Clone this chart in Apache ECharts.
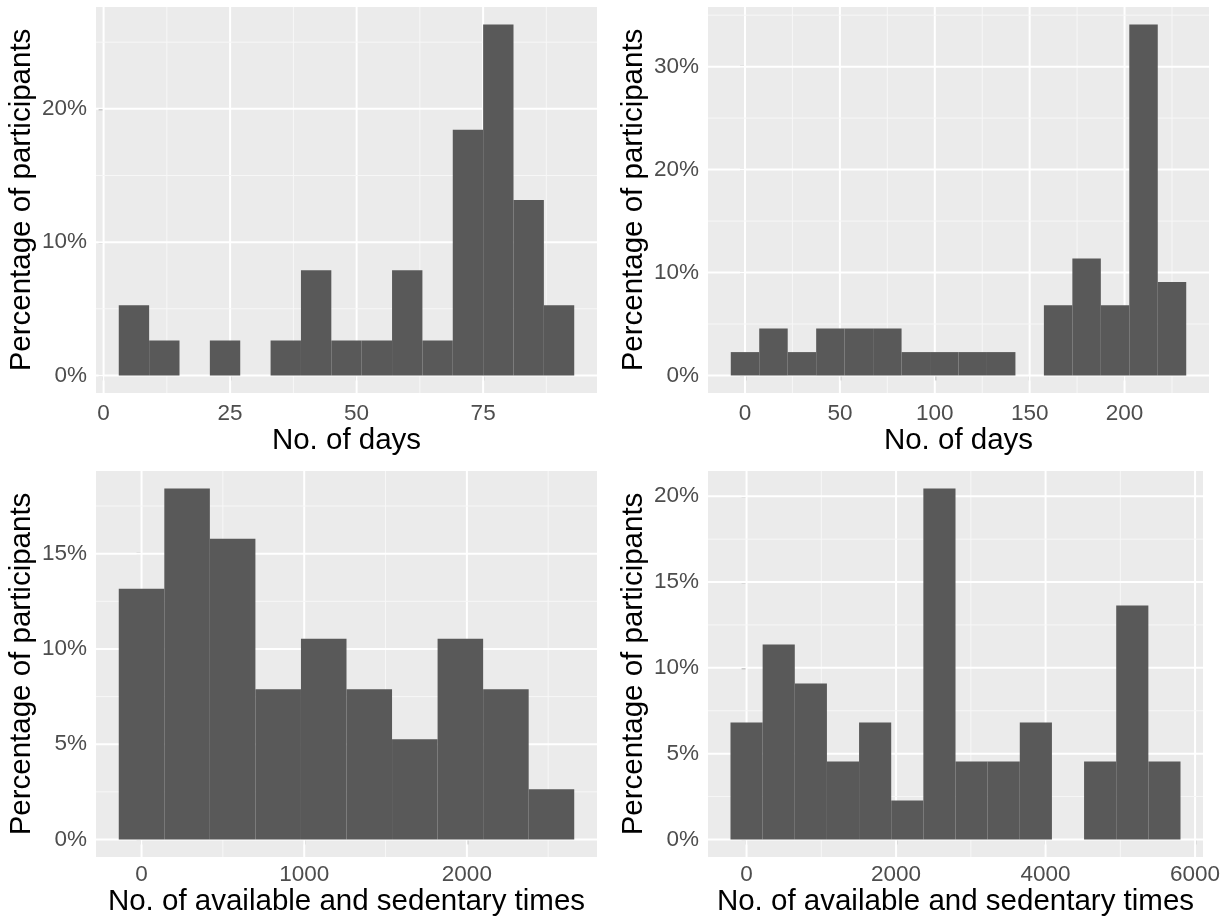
<!DOCTYPE html>
<html>
<head>
<meta charset="utf-8">
<script src="https://cdn.jsdelivr.net/npm/echarts@6/dist/echarts.min.js"></script>
<style>
html,body{margin:0;padding:0;background:#fff;}
#chart{width:1228px;height:920px;}
</style>
</head>
<body>
<div id="chart"></div>
<script>
// ---- Data ----
// Panel A (top-left): No. of days
const daysA_centers = [6, 12, 18, 24, 30, 36, 42, 48, 54, 60, 66, 72, 78, 84, 90];
const daysA_binWidth = 6;
const daysA_pct = [5.26, 2.63, 0, 2.63, 0, 2.63, 7.89, 2.63, 2.63, 7.89, 2.63, 18.42, 26.32, 13.16, 5.26];
const daysA_xBreaks = [0, 25, 50, 75];
const daysA_xMinor = [12.5, 37.5, 62.5, 87.5];
const daysA_yBreaks = [0, 10, 20];
const daysA_yMinor = [5, 15, 25];

// Panel B (top-right): No. of days
const daysB_centers = [0, 15, 30, 45, 60, 75, 90, 105, 120, 135, 150, 165, 180, 195, 210, 225];
const daysB_binWidth = 15;
const daysB_pct = [2.27, 4.55, 2.27, 4.55, 4.55, 4.55, 2.27, 2.27, 2.27, 2.27, 0, 6.82, 11.36, 6.82, 34.09, 9.09];
const daysB_xBreaks = [0, 50, 100, 150, 200];
const daysB_xMinor = [25, 75, 125, 175, 225];
const daysB_yBreaks = [0, 10, 20, 30];
const daysB_yMinor = [5, 15, 25, 35];

// Panel C (bottom-left): No. of available and sedentary times
const timesC_centers = [0, 280, 560, 840, 1120, 1400, 1680, 1960, 2240, 2520];
const timesC_binWidth = 280;
const timesC_pct = [13.16, 18.42, 15.79, 7.89, 10.53, 7.89, 5.26, 10.53, 7.89, 2.63];
const timesC_xBreaks = [0, 1000, 2000];
const timesC_xMinor = [500, 1500, 2500];
const timesC_yBreaks = [0, 5, 10, 15];
const timesC_yMinor = [2.5, 7.5, 12.5, 17.5];

// Panel D (bottom-right): No. of available and sedentary times
const timesD_centers = [0, 430, 860, 1290, 1720, 2150, 2580, 3010, 3440, 3870, 4300, 4730, 5160, 5590];
const timesD_binWidth = 430;
const timesD_pct = [6.82, 11.36, 9.09, 4.55, 6.82, 2.27, 20.45, 4.55, 4.55, 6.82, 0, 4.55, 13.64, 4.55];
const timesD_xBreaks = [0, 2000, 4000, 6000];
const timesD_xMinor = [1000, 3000, 5000];
const timesD_yBreaks = [0, 5, 10, 15, 20];
const timesD_yMinor = [2.5, 7.5, 12.5, 17.5];

const yTitle = 'Percentage of participants';
const xTitleDays = 'No. of days';
const xTitleTimes = 'No. of available and sedentary times';

// ---- Build chart ----
const FONT = 'Liberation Sans, Arial, Helvetica, sans-serif';
const panels = [
  {c: daysA_centers, w: daysA_binWidth, p: daysA_pct, xb: daysA_xBreaks, xm: daysA_xMinor, yb: daysA_yBreaks, ym: daysA_yMinor, xt: xTitleDays,
   grid: {left: 96, top: 7, width: 501, height: 386}, lm: 9, ng: 30},
  {c: daysB_centers, w: daysB_binWidth, p: daysB_pct, xb: daysB_xBreaks, xm: daysB_xMinor, yb: daysB_yBreaks, ym: daysB_yMinor, xt: xTitleDays,
   grid: {left: 708, top: 7, width: 501, height: 386}, lm: 9, ng: 30},
  {c: timesC_centers, w: timesC_binWidth, p: timesC_pct, xb: timesC_xBreaks, xm: timesC_xMinor, yb: timesC_yBreaks, ym: timesC_yMinor, xt: xTitleTimes,
   grid: {left: 96, top: 471, width: 501, height: 386}, lm: 6, ng: 26},
  {c: timesD_centers, w: timesD_binWidth, p: timesD_pct, xb: timesD_xBreaks, xm: timesD_xMinor, yb: timesD_yBreaks, ym: timesD_yMinor, xt: xTitleTimes,
   grid: {left: 708, top: 471, width: 495, height: 386}, lm: 6, ng: 26}
];

const grids = [], xAxes = [], yAxes = [], series = [];
panels.forEach((pn, i) => {
  const x0 = pn.c[0] - pn.w / 2, x1 = pn.c[pn.c.length - 1] + pn.w / 2;
  const xpad = 0.05 * (x1 - x0);
  const ymax = Math.max(...pn.p);
  const ypad = 0.05 * ymax;
  const xmin = x0 - xpad, xmax = x1 + xpad, ymin = -ypad, yTop = ymax + ypad;
  grids.push(Object.assign({show: true, backgroundColor: '#EBEBEB', borderWidth: 0, containLabel: false}, pn.grid));
  xAxes.push({
    type: 'value', gridIndex: i, min: xmin, max: xmax,
    axisLine: {show: false},
    axisTick: {show: true, length: 5, customValues: pn.xb, lineStyle: {color: '#333333', width: 1.2}},
    axisLabel: {customValues: pn.xb, color: '#4D4D4D', fontSize: 22.5, fontFamily: FONT, margin: pn.lm,
      formatter: v => String(v)},
    splitLine: {show: false},
    axisPointer: {show: false},
    name: pn.xt, nameLocation: 'middle', nameGap: pn.ng,
    nameTextStyle: {color: '#000', fontSize: 29.5, fontFamily: FONT, verticalAlign: 'top'}
  });
  yAxes.push({
    type: 'value', gridIndex: i, min: ymin, max: yTop,
    axisLine: {show: false},
    axisTick: {show: true, length: 5, customValues: pn.yb, lineStyle: {color: '#333333', width: 1.2}},
    axisLabel: {customValues: pn.yb, color: '#4D4D4D', fontSize: 22.5, fontFamily: FONT, margin: 9,
      formatter: v => v + '%'},
    splitLine: {show: false},
    axisPointer: {show: false},
    name: yTitle, nameLocation: 'middle', nameGap: 59, nameRotate: 90,
    nameTextStyle: {color: '#000', fontSize: 29.5, fontFamily: FONT}
  });
  // grid lines: vertical (x) and horizontal (y), minor then major
  const vLines = [], hLines = [];
  pn.xm.forEach(v => { if (v > xmin && v < xmax) vLines.push([v, 0]); });
  pn.xb.forEach(v => { if (v > xmin && v < xmax) vLines.push([v, 1]); });
  pn.ym.forEach(v => { if (v > ymin && v < yTop) hLines.push([v, 0]); });
  pn.yb.forEach(v => { if (v > ymin && v < yTop) hLines.push([v, 1]); });
  const lineStyleOf = major => ({stroke: major ? '#FFFFFF' : '#F7F7F7', lineWidth: major ? 2 : 1});
  series.push({
    type: 'custom', xAxisIndex: i, yAxisIndex: i, z: 1, silent: true, emphasis: {disabled: true},
    data: vLines.map(d => [d[0], 0, d[1]]),
    renderItem: (params, api) => {
      const cs = params.coordSys;
      const px = api.coord([api.value(0), 0])[0];
      return {type: 'line', silent: true, shape: {x1: px, y1: cs.y, x2: px, y2: cs.y + cs.height}, style: lineStyleOf(api.value(2))};
    }
  });
  series.push({
    type: 'custom', xAxisIndex: i, yAxisIndex: i, z: 1, silent: true, emphasis: {disabled: true},
    data: hLines.map(d => [0, d[0], d[1]]),
    renderItem: (params, api) => {
      const cs = params.coordSys;
      const py = api.coord([0, api.value(1)])[1];
      return {type: 'line', silent: true, shape: {x1: cs.x, y1: py, x2: cs.x + cs.width, y2: py}, style: lineStyleOf(api.value(2))};
    }
  });
  // histogram bars
  series.push({
    type: 'custom', xAxisIndex: i, yAxisIndex: i, z: 2, silent: true, emphasis: {disabled: true},
    data: pn.c.map((c, k) => [c, pn.p[k]]),
    renderItem: (params, api) => {
      const c = api.value(0), pct = api.value(1);
      if (!(pct > 0)) return null;
      const a = api.coord([c - pn.w / 2, pct]);
      const b = api.coord([c + pn.w / 2, 0]);
      return {type: 'rect', shape: {x: a[0], y: a[1], width: b[0] - a[0], height: b[1] - a[1]}, style: {fill: '#595959'}};
    }
  });
});

const chart = echarts.init(document.getElementById('chart'), null, {renderer: 'canvas'});
chart.setOption({
  animation: false,
  backgroundColor: '#FFFFFF',
  grid: grids, xAxis: xAxes, yAxis: yAxes, series: series
});
</script>
</body>
</html>
